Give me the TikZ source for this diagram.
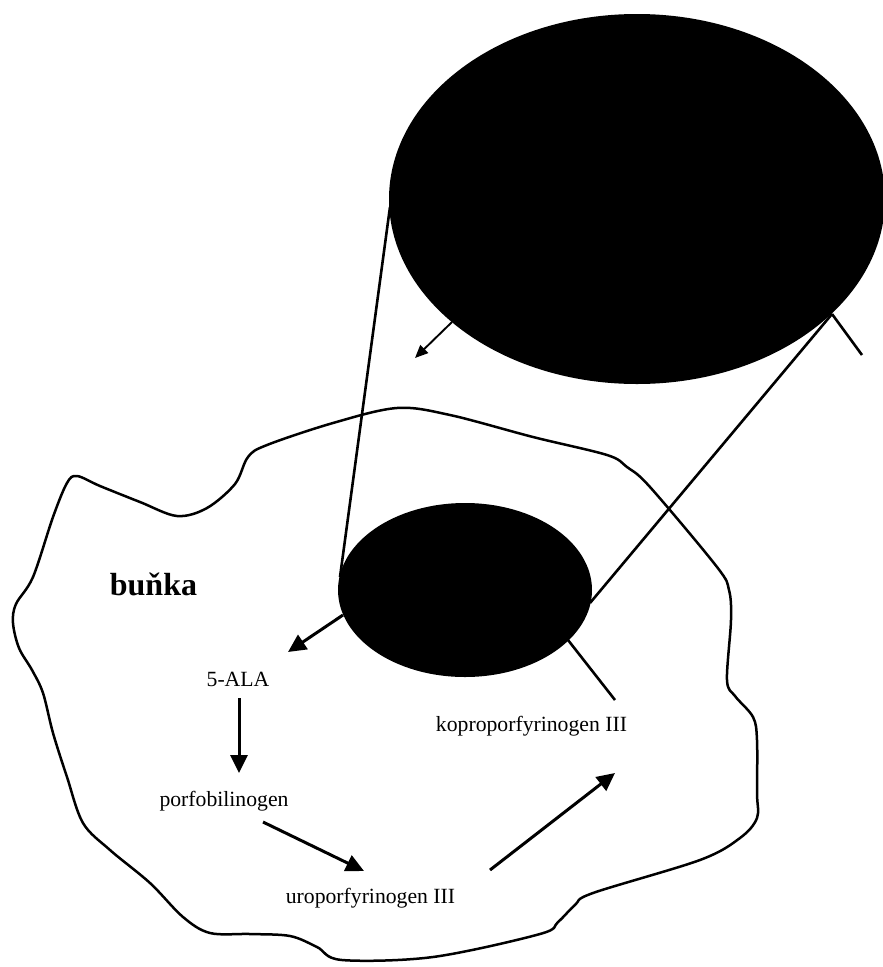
\documentclass[tikz,border=0pt]{standalone}
\usepackage{fontspec}
\setmainfont{Liberation Serif}
\usetikzlibrary{arrows.meta,shapes.geometric}
\begin{document}
\begin{tikzpicture}[x=1pt,y=-1pt,
  blob/.style={ellipse, fill=black, draw=none, inner sep=0pt},
  cone/.style={line width=2.6pt},
  flow/.style={line width=3pt, -{Triangle[length=18pt,width=17pt]}},
  thinflow/.style={line width=1.9pt, -{Triangle[length=13pt,width=11pt]}},
  lbl/.style={anchor=base, inner sep=0pt, font=\fontsize{21.7}{26}\selectfont},
  biglbl/.style={anchor=base, inner sep=0pt, font=\fontsize{32}{38}\selectfont\bfseries}]
\useasboundingbox (0,0) rectangle (883,967);
\clip (0,0) rectangle (883,967);
% cell outline
\draw[line width=2.5pt, line join=round] plot[smooth cycle, tension=0.55] coordinates {
 (77,476) (100,486) (140,502) (177,516) (207,508) (235,484) (248,457) (267,445)
 (333,423) (397,408) (450,415) (533,437) (607,455) (627,467) (650,487) (717,567)
 (729,590) (731,620) (727,680) (735,696) (753,717) (757,740) (757,793) (757,818)
 (740,838) (700,860) (593,893) (575,905) (558,922) (540,934) (433,957) (342,960)
 (317,947) (290,936) (250,934) (210,933) (183,917) (150,883) (110,850) (83,823)
 (67,777) (53,733) (43,693) (32,670) (19,648) (13,623) (16,604) (33,577) (53,517) (67,483)};
% named points
\coordinate (bL) at (390,207);
\coordinate (bR) at (832,314);
\coordinate (bRt) at (862,355);
\coordinate (bA) at (452,322);
\coordinate (bAt) at (415,358);
\coordinate (sL) at (340,577);
\coordinate (sR) at (590,603);
\coordinate (sK) at (568,640);
\coordinate (sA) at (343,615);
\coordinate (kTop) at (615,700);
% cone lines
\draw[cone] (bL) -- (sL);
\draw[cone] (bR) -- (sR);
\draw[cone] (bR) -- (bRt);
\draw[cone] (sK) -- (kTop);
\draw[thinflow] (bA) -- (bAt);
% ellipses
\node[blob, minimum width=496pt, minimum height=370pt] (big) at (637,199) {};
\node[blob, minimum width=254pt, minimum height=174pt] (small) at (465,590) {};
% texts
\node[biglbl] (cell) at (153.5,595) {buňka};
\node[lbl] (ala) at (238,686) {5-ALA};
\node[lbl] (pbg) at (224,806) {porfobilinogen};
\node[lbl] (uro) at (370.5,903) {uroporfyrinogen III};
\node[lbl] (kopro) at (531.5,731) {koproporfyrinogen III};
% arrows
\coordinate (a1e) at (288,652);
\coordinate (a2s) at (239,698);
\coordinate (a2e) at (239,773);
\coordinate (a3s) at (263,822);
\coordinate (a3e) at (364,871);
\coordinate (a4s) at (490,870);
\coordinate (a4e) at (615,773);
\draw[flow] (sA) -- (a1e);
\draw[flow] (a2s) -- (a2e);
\draw[flow] (a3s) -- (a3e);
\draw[flow] (a4s) -- (a4e);
\end{tikzpicture}
\end{document}
